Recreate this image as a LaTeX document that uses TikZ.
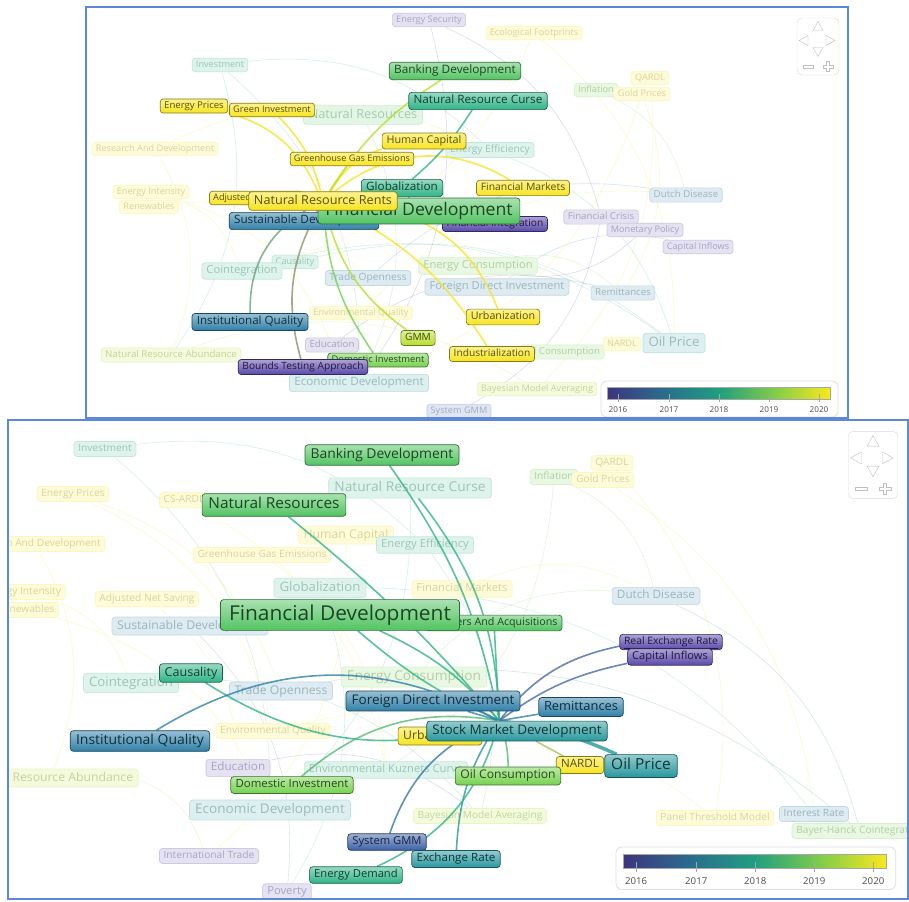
\documentclass[tikz,border=0pt]{standalone}
\usepackage{fontspec}
\setmainfont{Open Sans}[FakeStretch=1.02]
\usetikzlibrary{shapes,arrows.meta}

\definecolor{vY}{RGB}{248,228,32}
\definecolor{vYG}{RGB}{185,222,45}
\definecolor{vLG}{RGB}{118,210,80}
\definecolor{vG}{RGB}{82,196,98}
\definecolor{vTG}{RGB}{48,180,135}
\definecolor{vT}{RGB}{40,152,158}
\definecolor{vB}{RGB}{48,128,168}
\definecolor{vDB}{RGB}{62,98,168}
\definecolor{vP}{RGB}{90,72,170}
\definecolor{v16}{RGB}{62,52,125}
\definecolor{v17}{RGB}{42,108,142}
\definecolor{v18}{RGB}{32,158,128}
\definecolor{v19}{RGB}{128,205,72}
\definecolor{v20}{RGB}{250,232,30}
\definecolor{frameblue}{RGB}{95,135,215}

\pgfdeclarelayer{faint}
\pgfdeclarelayer{dimmed}
\pgfdeclarelayer{links}
\pgfsetlayers{faint,dimmed,links,main}
\pgfdeclarehorizontalshading{viridis}{100bp}{color(0bp)=(v16); color(25bp)=(v16); color(37.5bp)=(v17); color(50bp)=(v18); color(62.5bp)=(v19); color(75bp)=(v20); color(100bp)=(v20)}

\begin{document}
\begin{tikzpicture}[x=1pt,y=-1pt,
    fs/.style={font=\fontsize{#1}{#1}\selectfont,inner xsep=#1*0.42pt,inner ysep=#1*0.26pt,text height=#1*0.74pt,text depth=#1*0.24pt},
    kw/.style={rounded corners=3pt,draw=#1!55!black,top color=#1!50!white,bottom color=#1,text=#1!35!black,line width=.7pt},
    dim/.style={rounded corners=3pt,draw=#1!30,fill=#1!16,text=#1!70!black!45,line width=.7pt},
    lnk/.style={draw=#1,line width=1.6pt,opacity=.8},
    faint/.style={draw=#1,line width=.6pt,opacity=.2},
    frame/.style={draw=frameblue,line width=1.2pt},
    navpad/.pic={
      \draw[gray!30,rounded corners=5pt,fill=white] (-21,-28.5) rectangle (21,28.5);
      \draw[gray!50] (-5,-16) -- (5,-16) -- (0,-25) -- cycle;
      \draw[gray!50] (-5,1) -- (5,1) -- (0,10) -- cycle;
      \draw[gray!50] (-10,-11) -- (-10,-1) -- (-19,-6) -- cycle;
      \draw[gray!50] (8,-11) -- (8,-1) -- (17,-6) -- cycle;
      \draw[gray!50] (-15,18.5) rectangle (-5,21.5);
      \draw[gray!50] (8.5,15) -- (11.5,15) -- (11.5,18.5) -- (15,18.5) -- (15,21.5) -- (11.5,21.5) -- (11.5,25) -- (8.5,25) -- (8.5,21.5) -- (5,21.5) -- (5,18.5) -- (8.5,18.5) -- cycle;
    },
    yearbar/.pic={
      \draw[gray!25,rounded corners=6pt,fill=white,line width=.8pt] (0,0) rectangle (237,36);
      \path[shading=viridis,draw=gray!70,line width=.4pt] (6,6) rectangle (229,18);
      \foreach \x/\yr in {17/2016,68/2017,118/2018,168/2019,218/2020} {
        \draw[gray!70,line width=.5pt] (\x,13) -- (\x,21);
        \node[font=\fontsize{8}{8}\selectfont,text=black!70] at (\x,29) {\yr};
      }
    }
    ]
\useasboundingbox (0,0) rectangle (909,901);
\begin{pgfonlayer}{faint}
  \fill[white] (0,0) rectangle (909,901);
\end{pgfonlayer}

% ---------- upper view ----------
\begin{pgfonlayer}{dimmed}
\begin{scope}
  \clip (86,7) rectangle (848,418);
  \node[dim=vP,fs=9] (tEnSec) at (429,20) {Energy Security};
  \node[dim=vY,fs=9] (tEcoFp) at (534,33) {Ecological Footprints};
  \node[dim=vTG,fs=9] (tInv) at (220,65) {Investment};
  \node[dim=vG,fs=12.5] (tNR) at (363,115) {Natural Resources};
  \node[dim=vY,fs=9] (tRD) at (155,149) {Research And Development};
  \node[dim=vTG,fs=10] (tEE) at (490,150) {Energy Efficiency};
  \node[dim=vLG,fs=9] (tInfl) at (596,90) {Inflation};
  \node[dim=vY,fs=9] (tQARDL) at (650,78) {QARDL};
  \node[dim=vY,fs=9] (tGold) at (642,94) {Gold Prices};
  \node[dim=vY,fs=9] (tEI) at (151,192) {Energy Intensity};
  \node[dim=vY,fs=9] (tRen) at (149,207) {Renewables};
  \node[dim=vB,fs=9.5] (tDD) at (686,195) {Dutch Disease};
  \node[dim=vP,fs=9.5] (tFC) at (601,217) {Financial Crisis};
  \node[dim=vP,fs=9] (tMP) at (645,230) {Monetary Policy};
  \node[dim=vP,fs=9] (tCI) at (698,247) {Capital Inflows};
  \node[dim=vTG,fs=9] (tCaus) at (295,262) {Causality};
  \node[dim=vTG,fs=11] (tCoint) at (242,271) {Cointegration};
  \node[dim=vB,fs=10] (tTO) at (368,278) {Trade Openness};
  \node[dim=vLG,fs=11] (tEC) at (478,266) {Energy Consumption};
  \node[dim=vB,fs=11] (tFDI) at (497,287) {Foreign Direct Investment};
  \node[dim=vB,fs=9.5] (tRem) at (623,293) {Remittances};
  \node[dim=vY,fs=9] (tEQ) at (361,313) {Environmental Quality};
  \node[dim=vP,fs=9.5] (tEdu) at (332,345) {Education};
  \node[dim=vYG,fs=9.5] (tNRA) at (171,355) {Natural Resource Abundance};
  \node[dim=vT,fs=11.5] (tED) at (359,383) {Economic Development};
  \node[dim=vLG,fs=9.5] (tOC) at (562,352) {Oil Consumption};
  \node[dim=vY,fs=9] (tNARDL) at (622,344) {NARDL};
  \node[dim=vT,fs=13] (tOP) at (674,343) {Oil Price};
  \node[dim=vYG,fs=9] (tBMA) at (537,389) {Bayesian Model Averaging};
  \node[dim=vDB,fs=9] (tSGMM) at (459,411) {System GMM};
\end{scope}
\end{pgfonlayer}

\node[kw=vG,fs=11.6] (tBD) at (455,71) {Banking Development};
\node[kw=vTG,fs=11.5] (tNRC) at (478,101) {Natural Resource Curse};
\node[kw=vY,fs=9.4] (tEP) at (194,106) {Energy Prices};
\node[kw=vY,fs=9.1] (tGI) at (272,110) {Green Investment};
\node[kw=vY,fs=10.6] (tHC) at (424,141) {Human Capital};
\node[kw=vY,fs=9] (tGHG) at (352,159) {Greenhouse Gas Emissions};
\node[kw=vTG,fs=11.5] (tGlob) at (402,188) {Globalization};
\node[kw=vY,fs=10.2] (tFM) at (523,188) {Financial Markets};
\node[kw=vY,fs=9] (tANS) at (256,198) {Adjusted Net Saving};
\node[kw=vB,fs=11.5] (tSD) at (304,221) {Sustainable Development};
\node[kw=vP,fs=10] (tFI) at (495,224) {Financial Integration};
\node[kw=vG,fs=17.3] (tFD) at (419,211) {Financial Development};
\node[kw=vY,fs=12.4] (tNRR) at (323,201) {Natural Resource Rents};
\node[kw=vB,fs=11.4] (tIQ) at (250,322) {Institutional Quality};
\node[kw=vYG,fs=10] (tGMM) at (418,338) {GMM};
\node[kw=vLG,fs=9.2] (tDI) at (378,360) {Domestic Investment};
\node[kw=vP,fs=10] (tBTA) at (303,367) {Bounds Testing Approach};
\node[kw=vY,fs=10.5] (tUrb) at (503,317) {Urbanization};
\node[kw=vY,fs=10] (tInd) at (492,354) {Industrialization};

\begin{pgfonlayer}{faint}
\begin{scope}
  \clip (86,7) rectangle (848,418);
  \foreach \a/\b/\c in {tInv/tED/vTG, tRD/tNRA/vY, tEI/tCoint/vY, tEcoFp/tOP/vY, tEnSec/tFC/vP, tInfl/tDD/vLG, tGold/tRem/vY, tQARDL/tBMA/vY, tNR/tED/vG, tEE/tOP/vTG, tEC/tRem/vLG, tFDI/tCI/vB, tTO/tDD/vB, tMP/tEC/vP, tCoint/tOP/vTG, tRD/tEE/vY, tEnSec/tED/vP, tNRA/tBMA/vYG, tCaus/tOP/vTG, tEQ/tDD/vY, tEdu/tRem/vP, tInv/tEE/vTG, tEcoFp/tCoint/vY, tGold/tED/vY, tRen/tTO/vY, tInv/tNRA/vTG, tEI/tEdu/vY, tFC/tSGMM/vP}
    \draw[faint=\c] (\a) to[bend left=25] (\b);
\end{scope}
\end{pgfonlayer}

\begin{pgfonlayer}{links}
  \draw[lnk=vY] (tNRR) to[bend right=25] (tEP);
  \draw[lnk=vY] (tNRR) to[bend right=15] (tGI);
  \draw[lnk=vY] (tNRR) to (tGHG);
  \draw[lnk=vY] (tNRR) to[bend left=20] (tHC);
  \draw[lnk=vYG] (tNRR) to[bend left=12] (tBD);
  \draw[lnk=vY] (tNRR) to[bend left=35] (tFM);
  \draw[lnk=vY] (tNRR) to[bend left=25] (tUrb);
  \draw[lnk=vY] (tNRR) to[bend left=15] (tInd);
  \draw[lnk=vYG] (tNRR) to[bend right=20] (tGMM);
  \draw[lnk=vLG] (tNRR) to[bend right=15] (tDI);
  \draw[lnk=vP!50!vYG] (tNRR) to[bend right=22] (tBTA);
  \draw[lnk=vB!60!vYG] (tNRR) to[bend right=30] (tIQ);
  \draw[lnk=vTG] (tGlob) to[bend right=8] (tNRC);
  \draw[lnk=gray] (tGlob) to (tFD);
\end{pgfonlayer}

\pic at (818,46.5) {navpad};
\pic at (601,381) {yearbar};

% ---------- lower view ----------
\begin{pgfonlayer}{dimmed}
\begin{scope}
  \clip (8,420) rectangle (908,899);
  \node[dim=vTG,fs=10] (bInv) at (105,449) {Investment};
  \node[dim=vY,fs=10] (bEP) at (73,494) {Energy Prices};
  \node[dim=vY,fs=10] (bCS) at (184,500) {CS-ARDL};
  \node[dim=vTG,fs=13.5] (bNRC) at (410,488) {Natural Resource Curse};
  \node[dim=vLG,fs=10] (bInfl) at (554,477) {Inflation};
  \node[dim=vY,fs=10] (bQARDL) at (612,463) {QARDL};
  \node[dim=vY,fs=10] (bGold) at (603,480) {Gold Prices};
  \node[dim=vY,fs=10] (bRD) at (35,544) {Research And Development};
  \node[dim=vY,fs=12] (bHC) at (346,535) {Human Capital};
  \node[dim=vTG,fs=11] (bEE) at (425,545) {Energy Efficiency};
  \node[dim=vY,fs=10] (bGHG) at (262,555) {Greenhouse Gas Emissions};
  \node[dim=vY,fs=10] (bEI) at (23,592) {Energy Intensity};
  \node[dim=vY,fs=10] (bRen) at (26,610) {Renewables};
  \node[dim=vY,fs=10] (bANS) at (147,599) {Adjusted Net Saving};
  \node[dim=vTG,fs=13] (bGlob) at (320,588) {Globalization};
  \node[dim=vY,fs=11] (bFM) at (462,589) {Financial Markets};
  \node[dim=vB,fs=12] (bSD) at (190,626) {Sustainable Development};
  \node[dim=vB,fs=11.5] (bDD) at (656,596) {Dutch Disease};
  \node[dim=vTG,fs=13] (bCoint) at (131,683) {Cointegration};
  \node[dim=vB,fs=12] (bTO) at (281,691) {Trade Openness};
  \node[dim=vLG,fs=13.5] (bEC) at (414,677) {Energy Consumption};
  \node[dim=vY,fs=10] (bEQ) at (273,731) {Environmental Quality};
  \node[dim=vYG,fs=12] (bNRA) at (50,778) {Natural Resource Abundance};
  \node[dim=vP,fs=11.5] (bEdu) at (238,768) {Education};
  \node[dim=vTG,fs=11] (bEKC) at (386,770) {Environmental Kuznets Curve};
  \node[dim=vT,fs=13.3] (bED) at (270,810) {Economic Development};
  \node[dim=vYG,fs=10] (bBMA) at (480,816) {Bayesian Model Averaging};
  \node[dim=vP,fs=10] (bIT) at (209,856) {International Trade};
  \node[dim=vP,fs=11] (bPov) at (287,892) {Poverty};
  \node[dim=vY,fs=10] (bPTM) at (715,818) {Panel Threshold Model};
  \node[dim=vB,fs=10] (bIR) at (814,814) {Interest Rate};
  \node[dim=vLG,fs=10] (bBHC) at (860,831) {Bayer-Hanck Cointegration};
\end{scope}
\end{pgfonlayer}

\node[kw=vG,fs=13.6] (bBD) at (382,455) {Banking Development};
\node[kw=vG,fs=15.1] (bNR) at (274,505) {Natural Resources};
\node[kw=vG,fs=10.5] (bMA) at (494,623) {Mergers And Acquisitions};
\node[kw=vG,fs=20.5] (bFD) at (340,615) {Financial Development};
\node[kw=vP,fs=10.2] (bREER) at (671,642) {\underline{Real Exchange Rate}};
\node[kw=vP,fs=10.9] (bCI) at (670,657) {Capital Inflows};
\node[kw=vTG,fs=12.3] (bCaus) at (191,673) {Causality};
\node[kw=vB,fs=13.3] (bFDI) at (433,701) {Foreign Direct Investment};
\node[kw=vB,fs=12.6] (bRem) at (581,707) {Remittances};
\node[kw=vY,fs=12] (bUrb) at (440,736) {Urbanization};
\node[kw=vT,fs=13.2] (bSMD) at (517,731) {Stock Market Development};
\node[kw=vB,fs=13.7] (bIQ) at (140,741) {Institutional Quality};
\node[kw=vY,fs=11.4] (bNARDL) at (580,765) {NARDL};
\node[kw=vT,fs=15.2] (bOP) at (641,766) {Oil Price};
\node[kw=vLG,fs=11.9] (bOC) at (508,776) {Oil Consumption};
\node[kw=vLG,fs=11.2] (bDI) at (292,785) {Domestic Investment};
\node[kw=vDB,fs=11] (bSGMM) at (387,842) {System GMM};
\node[kw=vT,fs=11.4] (bER) at (456,859) {Exchange Rate};
\node[kw=vTG,fs=11] (bEDem) at (356,875) {Energy Demand};

\begin{pgfonlayer}{faint}
\begin{scope}
  \clip (8,420) rectangle (908,899);
  \foreach \a/\b/\c in {bInv/bED/vTG, bRD/bNRA/vY, bEI/bCoint/vY, bEP/bTO/vY, bQARDL/bPTM/vY, bInfl/bDD/vLG, bGold/bIR/vY, bNRC/bED/vTG, bEE/bBMA/vTG, bEC/bDD/vLG, bHC/bIT/vY, bGHG/bEKC/vY, bANS/bEdu/vY, bGlob/bPov/vTG, bFM/bDD/vY, bCoint/bBMA/vTG, bTO/bBHC/vB, bEQ/bPTM/vY, bNRA/bIT/vYG, bEdu/bBMA/vP, bInv/bEE/vTG, bCS/bEKC/vY, bSD/bPov/vB, bDD/bBHC/vB, bEP/bEQ/vY, bRen/bED/vY, bGlob/bIR/vTG, bInfl/bEKC/vLG}
    \draw[faint=\c] (\a) to[bend left=25] (\b);
\end{scope}
\end{pgfonlayer}

\begin{pgfonlayer}{links}
  \draw[lnk=vTG] (bBD) to[bend left=12] (bSMD.150);
  \draw[lnk=vTG] (bNR) to[bend left=5] (bSMD.150);
  \draw[lnk=vTG] (bFD) to[bend left=12] (bSMD.150);
  \draw[lnk=vTG] (bFD) to[bend right=8] (bSMD.150);
  \draw[lnk=vTG] (bNRC) to[bend left=18] (bSMD.150);
  \draw[lnk=vTG] (bMA) to (bSMD.150);
  \draw[lnk=vP!60!vT] (bSMD.150) to[bend left=20] (bREER);
  \draw[lnk=vP!60!vT] (bSMD.150) to[bend left=12] (bCI);
  \draw[lnk=vTG] (bCaus) to[bend right=25] (bSMD.150);
  \draw[lnk=vB] (bIQ) to[bend left=30] (bSMD.150);
  \draw[lnk=vLG!60!vT] (bDI) to[bend left=25] (bSMD.150);
  \draw[lnk=vLG!60!vT] (bOC) to[bend right=10] (bSMD.150);
  \draw[lnk=vY!60!vT] (bNARDL) to (bSMD);
  \draw[lnk=vT,line width=3.5pt] (bSMD.150) to[bend left=8] (bOP);
  \draw[lnk=vDB!60!vT] (bSGMM) to[bend left=25] (bSMD.150);
  \draw[lnk=vT] (bER) to[bend left=15] (bSMD.150);
  \draw[lnk=vTG] (bEDem) to[bend right=25] (bSMD.150);
  \draw[lnk=vB] (bRem) to (bSMD.150);
  \draw[lnk=vB] (bFDI) to (bSMD.150);
  \draw[lnk=vY!60!vT] (bUrb) to (bSMD.150);
\end{pgfonlayer}

\pic[scale=1.18,transform shape] at (873,465) {navpad};
\pic[scale=1.18,transform shape] at (616,847) {yearbar};

\draw[frame] (86,7) rectangle (848,418);
\draw[frame] (8,420) rectangle (908,899);
\end{tikzpicture}
\end{document}
